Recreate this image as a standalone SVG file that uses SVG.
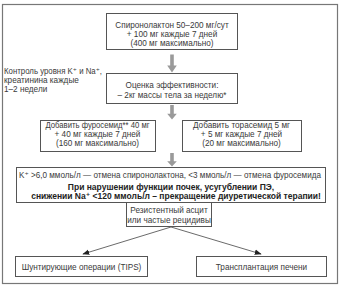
<svg xmlns="http://www.w3.org/2000/svg" width="341" height="287" viewBox="0 0 341 287">
<style>
  text { font-family: "Liberation Sans", Arial, "DejaVu Sans", sans-serif; font-size: 8.2px; fill: #3a3a3a; }
  .c { text-anchor: middle; }
  .b { font-weight: bold; fill: #222; font-size: 8.5px; }
  .box { fill: #fff; stroke: #555; stroke-width: 1; }
  .fat { fill: #9a9a9a; }
  .ln { stroke: #444; stroke-width: 0.8; fill: none; marker-end: url(#ah); }
</style>
<defs>
  <marker id="ah" viewBox="0 0 10 10" refX="9" refY="5" markerWidth="7" markerHeight="7" markerUnits="userSpaceOnUse" orient="auto">
    <path d="M0,1 L10,5 L0,9 Z" fill="#222"/>
  </marker>
  <path id="fa" d="M-1.8,0 H1.8 V11 H4.8 L0,18 L-4.8,11 H-1.8 Z"/>
</defs>
<rect x="2.5" y="4.5" width="335" height="279" fill="#fff" stroke="#777" stroke-width="1.2"/>

<g id="connectors">
  <use href="#fa" class="fat" transform="translate(172,54.5)"/>
  <use href="#fa" class="fat" transform="translate(172,105) scale(1,0.8)"/>
  <use href="#fa" class="fat" transform="translate(172,153) scale(1,0.75)"/>
  <line class="ln" x1="171" y1="227" x2="83" y2="254"/>
  <line class="ln" x1="171" y1="227" x2="261" y2="254"/>
</g>

<g id="n1">
  <rect class="box" x="106.5" y="13.5" width="131" height="36"/>
  <text class="c" x="172" y="27.5">Спиронолактон 50–200 мг/сут</text>
  <text class="c" x="172" y="36.5">+ 100 мг каждые 7 дней</text>
  <text class="c" x="172" y="45.5">(400 мг максимально)</text>
</g>

<g id="note">
  <text x="4" y="73.5" textLength="98" lengthAdjust="spacingAndGlyphs">Контроль уровня K⁺ и Na⁺,</text>
  <text x="4" y="82.5">креатинина каждые</text>
  <text x="4" y="91.5">1–2 недели</text>
</g>

<g id="n2">
  <rect class="box" x="106.5" y="73.5" width="131" height="30"/>
  <text class="c" x="172" y="87.5">Оценка эффективности:</text>
  <text class="c" x="172" y="97.5">– 2кг массы тела за неделю*</text>
</g>

<g id="n3">
  <rect class="box" x="40.5" y="120.5" width="115" height="31"/>
  <text class="c" x="97.5" y="128" textLength="104" lengthAdjust="spacingAndGlyphs">Добавить фуросемид** 40 мг</text>
  <text class="c" x="97.5" y="137">+ 40 мг каждые 7 дней</text>
  <text class="c" x="97.5" y="146">(160 мг максимально)</text>
</g>

<g id="n4">
  <rect class="box" x="182.5" y="120.5" width="119" height="31"/>
  <text class="c" x="241.5" y="128">Добавить торасемид 5 мг</text>
  <text class="c" x="241.5" y="137">+ 5 мг каждые 7 дней</text>
  <text class="c" x="241.5" y="146">(20 мг максимально)</text>
</g>

<g id="n5">
  <rect class="box" x="16.5" y="167.5" width="309" height="35"/>
  <text class="c" x="170" y="177.5" textLength="302" lengthAdjust="spacingAndGlyphs">K⁺ &gt;6,0 ммоль/л — отмена спиронолактона, &lt;3 ммоль/л — отмена фуросемида</text>
  <text class="c b" x="171" y="190">При нарушении функции почек, усугублении ПЭ,</text>
  <text class="c b" x="176" y="199">снижении Na⁺ &lt;120 ммоль/л – прекращение диуретической терапии!</text>
</g>

<g id="n6">
  <rect class="box" x="126.5" y="202.5" width="85" height="24"/>
  <text class="c" x="169" y="212.5">Резистентный асцит</text>
  <text class="c" x="169" y="222.5">или частые рецидивы</text>
</g>

<g id="n7">
  <rect class="box" x="15.5" y="256.5" width="132" height="20"/>
  <text class="c" x="81.5" y="269.5">Шунтирующие операции (TIPS)</text>
</g>

<g id="n8">
  <rect class="box" x="196.5" y="256.5" width="130" height="20"/>
  <text class="c" x="261.5" y="269.5">Трансплантация печени</text>
</g>
</svg>
